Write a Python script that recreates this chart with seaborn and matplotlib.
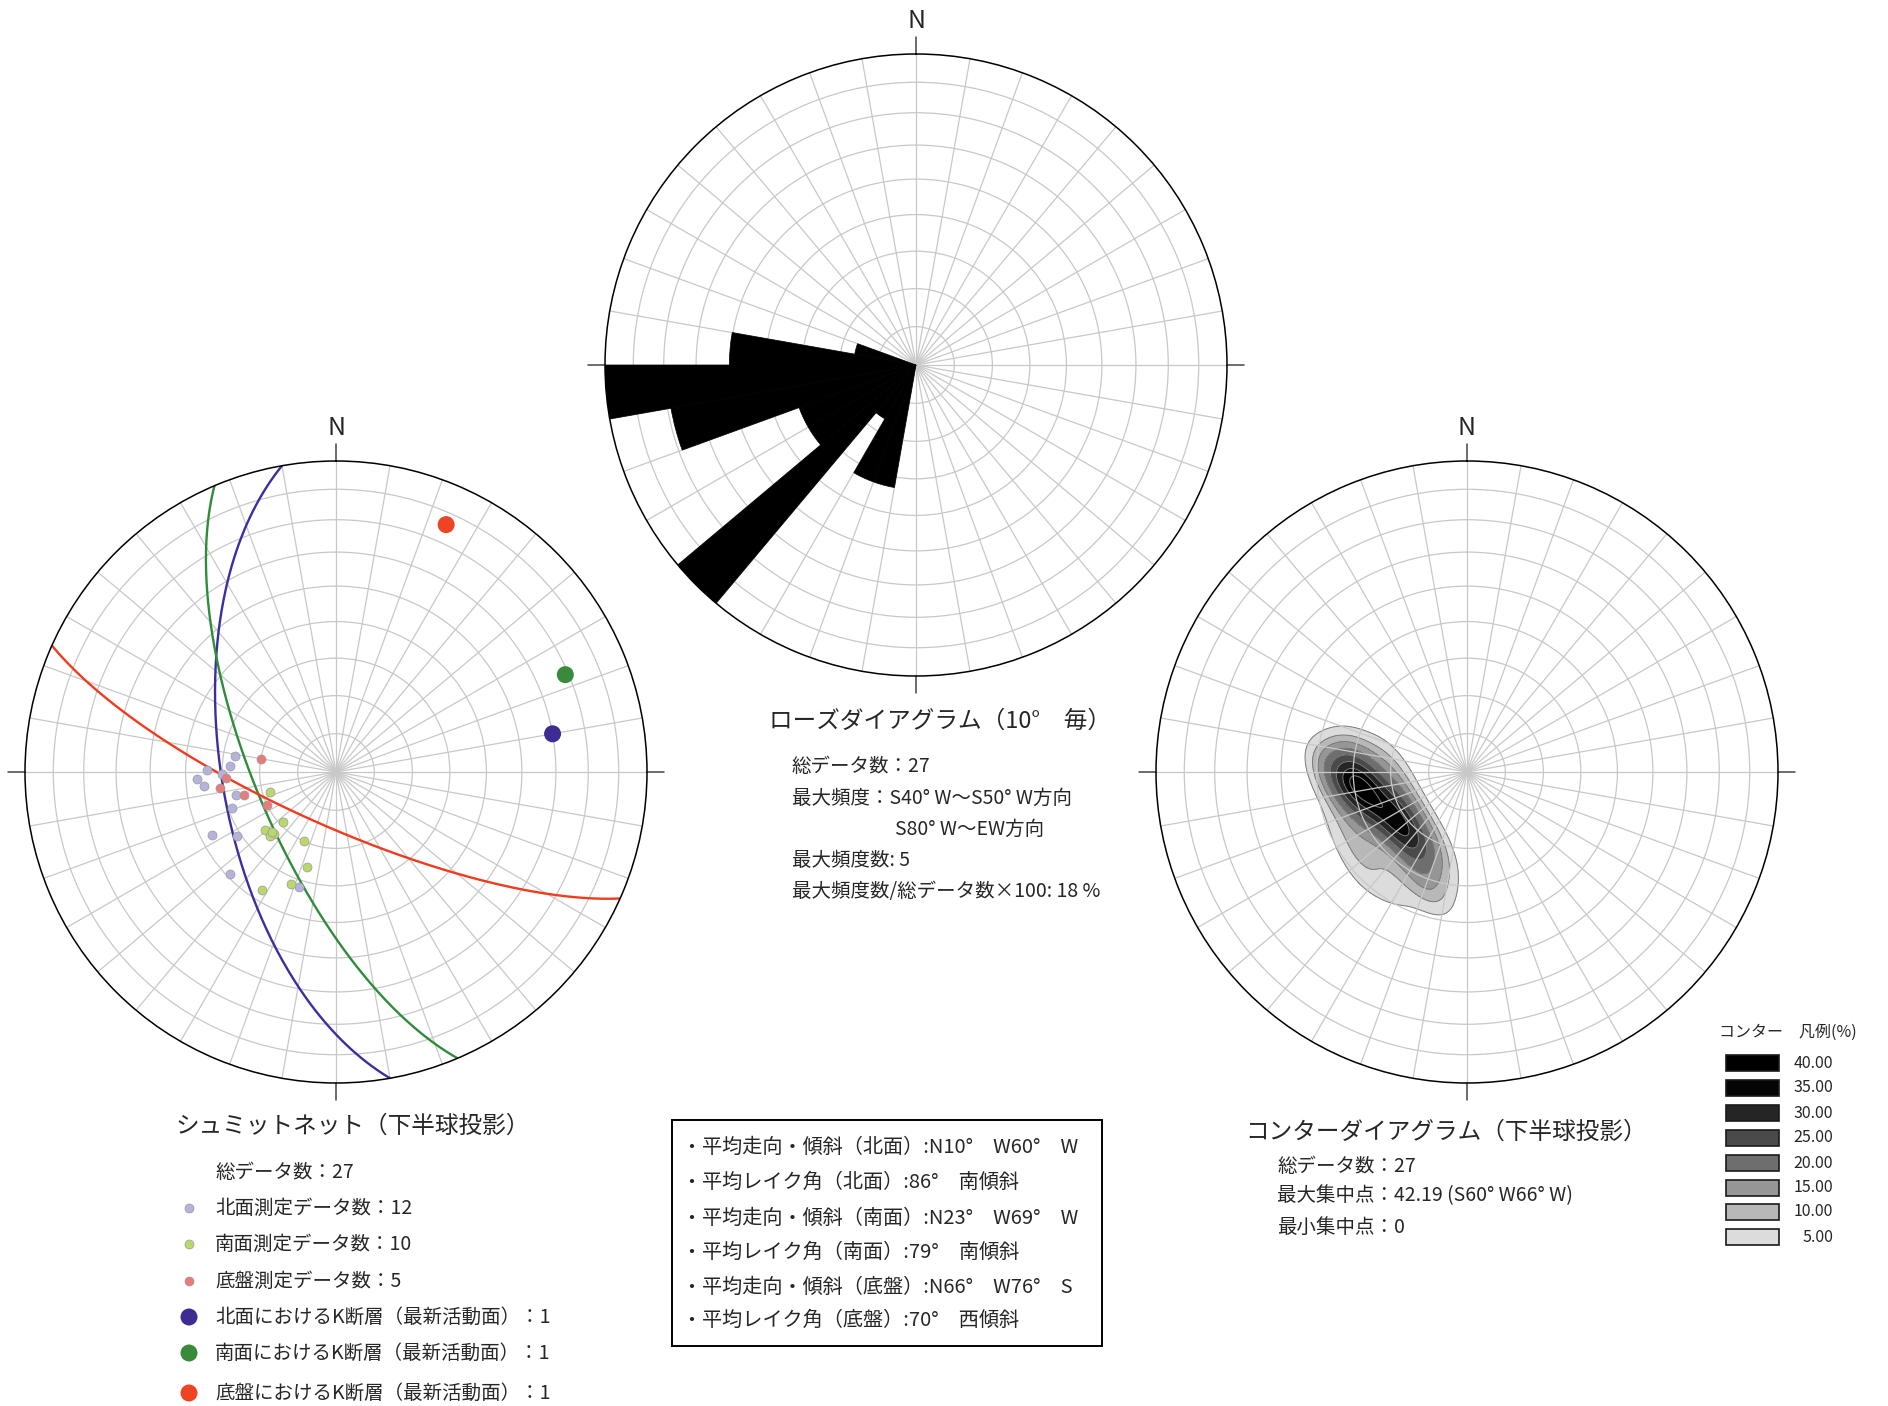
import numpy as np
import seaborn as sns
import matplotlib.pyplot as plt
from matplotlib.colors import ListedColormap
from matplotlib.patches import Rectangle

sns.set_theme(style='white')
plt.rcParams['font.family'] = ['Noto Sans CJK JP', 'DejaVu Sans']

W, H = 1888, 1406
R = 311  # net radius in pixels

# rose diagram (10 degree bins, start azimuth) and counts
rose_bins = [190, 200, 210, 220, 230, 240, 250, 260, 270, 280]
rose_counts = [2, 2, 1, 5, 2, 2, 4, 5, 3, 1]
rose_max = 5

# slickenlines (trend, plunge)
north_trend = [279, 273, 271, 269, 267, 264, 257, 251, 243, 237, 226, 198]
north_plunge = [63, 62, 56, 60, 53, 55, 63, 61, 53, 59, 51, 58]
south_trend = [253, 227, 231, 225, 226, 205, 197, 202, 212, 227]
south_plunge = [72, 71, 66, 67, 66, 70, 64, 58, 53, 67]
base_trend = [280, 267, 262, 256, 244]
base_plunge = [70, 61, 59, 65, 70]

# K fault (latest active plane): dip direction / dip and pole
k_names = ['北面', '南面', '底盤']
k_dipdir = [260, 247, 204]
k_dip = [60, 69, 76]
k_pole_trend = [80, 67, 24]
k_pole_plunge = [30, 21, 14]

# contour legend
contour_levels = [40, 35, 30, 25, 20, 15, 10, 5]
contour_colors = ['#000000', '#050505', '#252525', '#4a4a4a', '#6e6e6e', '#969696', '#b8b8b8', '#dcdcdc']
max_conc = 42.19

small_colors = ['#b3b3dc', '#bad76c', '#e87c7c']
big_colors = ['#3e2c94', '#3a8a3c', '#ee4422']
gc_colors = ['#3b2fa0', '#2f8c3a', '#f03b1f']


def ea_radius(plunge):
    # lower hemisphere equal-area (Schmidt) radius, unit circle
    return np.sqrt(2) * np.sin(np.deg2rad(90 - np.asarray(plunge, float)) / 2)


def great_circle(dipdir, dip, n=181):
    a = np.linspace(0, np.pi, n)
    sd, dd, dp = np.deg2rad(dipdir - 90), np.deg2rad(dipdir), np.deg2rad(dip)
    vn = np.cos(a) * np.cos(sd) + np.sin(a) * np.cos(dp) * np.cos(dd)
    ve = np.cos(a) * np.sin(sd) + np.sin(a) * np.cos(dp) * np.sin(dd)
    vd = np.sin(a) * np.sin(dp)
    trend = np.unwrap(np.arctan2(ve, vn))
    plunge = np.rad2deg(np.arcsin(np.clip(vd, -1, 1)))
    return trend, ea_radius(plunge)


ring_r = ea_radius(90 - 2 * np.arange(5, 45, 5))

fig = plt.figure(figsize=(W / 100, H / 100), dpi=100)

# overlay for texts, in pixel coordinates
ov = fig.add_axes([0, 0, 1, 1])
ov.set_xlim(0, W)
ov.set_ylim(H, 0)
ov.axis('off')


def net_axes(cx, cy, rmax=1.0, face='white'):
    ax = fig.add_axes([(cx - R) / W, 1 - (cy + R) / H, 2 * R / W, 2 * R / H], projection='polar')
    ax.set_theta_zero_location('N')
    ax.set_theta_direction(-1)
    ax.set_ylim(0, rmax)
    ax.set_xticks(np.deg2rad(np.arange(0, 360, 10)))
    ax.set_yticks(rmax * ring_r)
    ax.set_xticklabels([])
    ax.set_yticklabels([])
    ax.grid(True, color='#c8c8c8', lw=0.9)
    ax.spines['polar'].set_color('black')
    ax.spines['polar'].set_linewidth(1.1)
    ax.set_facecolor(face)
    ax.set_axisbelow(True)
    for t in [0, 90, 180, 270]:
        ax.plot([np.deg2rad(t)] * 2, [rmax, rmax * 1.055], color='#444444', lw=1.1, clip_on=False)
    ax.text(0, rmax * 1.107, 'N', ha='center', va='center', fontsize=18, clip_on=False)
    return ax


# ---- Schmidt net ----
axs = net_axes(336, 772)
for i in range(3):
    th, rr = great_circle(k_dipdir[i], k_dip[i])
    sns.lineplot(x=th, y=rr, sort=False, estimator=None, ax=axs, color=gc_colors[i], lw=1.7)
for tr, pl, c in [(north_trend, north_plunge, small_colors[0]),
                  (south_trend, south_plunge, small_colors[1]),
                  (base_trend, base_plunge, small_colors[2])]:
    sns.scatterplot(x=np.deg2rad(tr), y=ea_radius(pl), ax=axs, color=c, s=42,
                    edgecolor='#9a9a9a', linewidth=0.5, zorder=4)
sns.scatterplot(x=np.deg2rad(k_pole_trend), y=ea_radius(k_pole_plunge), ax=axs,
                hue=k_names, palette=big_colors, s=150, edgecolor='none', legend=False, zorder=5)
axs.set_xlabel('')
axs.set_ylabel('')
axs.set_ylim(0, 1)

# ---- rose diagram ----
axr = net_axes(916, 365, rmax=rose_max)
axr.bar(np.deg2rad(np.array(rose_bins) + 5), rose_counts, width=np.deg2rad(10),
        color='black', edgecolor='black', lw=0.5)
axr.set_ylim(0, rose_max)

# ---- contour diagram ----
cx_px, cy_px = 1467, 772
axc = fig.add_axes([(cx_px - R) / W, 1 - (cy_px + R) / H, 2 * R / W, 2 * R / H])
all_trend = np.deg2rad(north_trend + south_trend + base_trend)
all_r = ea_radius(north_plunge + south_plunge + base_plunge)
px = all_r * np.sin(all_trend)
py = all_r * np.cos(all_trend)
iso = sorted([lv / max_conc for lv in contour_levels]) + [1.0]
sns.kdeplot(x=px, y=py, ax=axc, fill=True, levels=iso, bw_adjust=1.1,
            cmap=ListedColormap(contour_colors[::-1]))
sns.kdeplot(x=px, y=py, ax=axc, fill=False, levels=iso[:-1], bw_adjust=1.1,
            colors='#7c7c7c', linewidths=0.7)
axc.set_xlim(-1, 1)
axc.set_ylim(-1, 1)
axc.axis('off')
net_axes(cx_px, cy_px, face='none')

# ---- texts ----
tfs, fs = 17, 14
ov.text(175, 1126, 'シュミットネット（下半球投影）', fontsize=tfs, va='center')
ov.text(215, 1172, '総データ数：27', fontsize=fs, va='center')
rows = [1208, 1244, 1281, 1317, 1353, 1393]
labels = [f'北面測定データ数：{len(north_trend)}', f'南面測定データ数：{len(south_trend)}',
          f'底盤測定データ数：{len(base_trend)}']
labels += [f'{n}におけるK断層（最新活動面）：1' for n in k_names]
for j, (y, lab) in enumerate(zip(rows, labels)):
    if j < 3:
        ov.scatter(189, y, s=42, color=small_colors[j], edgecolor='#9a9a9a', linewidth=0.5)
    else:
        ov.scatter(189, y, s=150, color=big_colors[j - 3], edgecolor='none')
    ov.text(215, y, lab, fontsize=fs, va='center')

ov.text(769, 721, 'ローズダイアグラム（10°　毎）', fontsize=tfs, va='center')
ov.text(792, 766, '総データ数：27', fontsize=fs, va='center')
ov.text(792, 798, '最大頻度：S40° W〜S50° W方向', fontsize=fs, va='center')
ov.text(895, 829, 'S80° W〜EW方向', fontsize=fs, va='center')
ov.text(792, 861, f'最大頻度数: {rose_max}', fontsize=fs, va='center')
ov.text(792, 892, '最大頻度数/総データ数×100: 18 %', fontsize=fs, va='center')

ov.add_patch(Rectangle((672, 1120), 430, 226, fill=False, edgecolor='black', lw=1.4))
box_lines = ['・平均走向・傾斜（北面）:N10°　W60°　W',
             '・平均レイク角（北面）:86°　南傾斜',
             '・平均走向・傾斜（南面）:N23°　W69°　W',
             '・平均レイク角（南面）:79°　南傾斜',
             '・平均走向・傾斜（底盤）:N66°　W76°　S',
             '・平均レイク角（底盤）:70°　西傾斜']
for y, s in zip([1147, 1182, 1218, 1252, 1287, 1320], box_lines):
    ov.text(682, y, s, fontsize=14.5, va='center')

ov.text(1245, 1132, 'コンターダイアグラム（下半球投影）', fontsize=tfs, va='center')
ov.text(1277, 1166, '総データ数：27', fontsize=fs, va='center')
ov.text(1277, 1196, f'最大集中点：{max_conc:.2f} (S60° W66° W)', fontsize=fs, va='center')
ov.text(1277, 1227, '最小集中点：0', fontsize=fs, va='center')

ov.text(1719, 1032, 'コンター　凡例(%)', fontsize=11.5, va='center')
leg_rows = [1063, 1088, 1113, 1138, 1163, 1188, 1212, 1237]
for y, lv, c in zip(leg_rows, contour_levels, contour_colors):
    ov.add_patch(Rectangle((1726, y - 8), 53, 16, facecolor=c, edgecolor='#1a1a1a', lw=1.2))
    ov.text(1833, y, f'{lv:.2f}', fontsize=11.5, va='center', ha='right')

fig.savefig('out.png', dpi=100)
